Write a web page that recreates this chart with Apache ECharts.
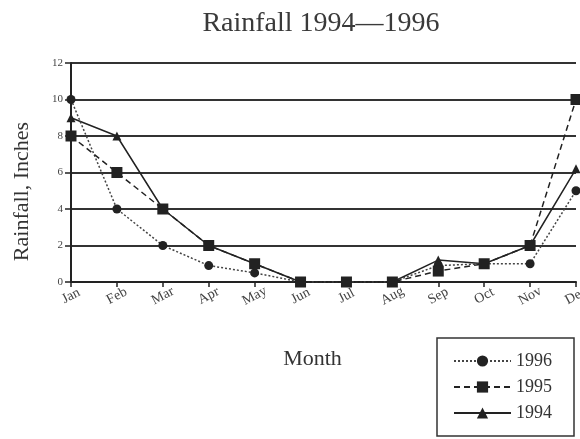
<!DOCTYPE html>
<html>
<head>
<meta charset="utf-8">
<script src="https://cdn.jsdelivr.net/npm/echarts@6/dist/echarts.min.js"></script>
<style>html,body{margin:0;padding:0;background:#fff;}#c{width:580px;height:439px;}</style>
</head>
<body>
<div id="c"></div>
<script>
const months = ['Jan','Feb','Mar','Apr','May','Jun','Jul','Aug','Sep','Oct','Nov','Dec'];
const yTicks = [0, 2, 4, 6, 8, 10, 12];
const rain1996 = [10, 4, 2, 0.9, 0.5, 0, 0, 0, 0.9, 1, 1, 5];
const rain1995 = [8, 6, 4, 2, 1, 0, 0, 0, 0.6, 1, 2, 10];
const rain1994 = [9, 8, 4, 2, 1, 0, 0, 0, 1.2, 1, 2, 6.2];

const serif = 'Liberation Serif';
const ink = '#222';
const chart = echarts.init(document.getElementById('c'));
chart.setOption({
  animation: false,
  backgroundColor: '#fff',
  title: {
    text: 'Rainfall 1994\u20141996',
    left: 316, top: 5, textAlign: 'center',
    textStyle: {fontFamily: serif, fontSize: 28, fontWeight: 'normal', color: '#3a3a3a'}
  },
  grid: {left: 71, right: 4, top: 63, bottom: 157, outerBoundsMode: 'none', containLabel: false},
  legend: {
    orient: 'vertical',
    left: 437, top: 338,
    padding: [14, 22, 14, 16],
    itemGap: 8,
    itemWidth: 57, itemHeight: 14,
    borderColor: '#333', borderWidth: 1.5,
    textStyle: {fontFamily: serif, fontSize: 18, color: '#333'},
    data: ['1996', '1995', '1994']
  },
  xAxis: {
    type: 'category',
    data: months,
    boundaryGap: false,
    name: 'Month',
    nameLocation: 'middle',
    nameGap: 66,
    nameTextStyle: {fontFamily: serif, fontSize: 22, color: '#333', padding: [0, 22, 0, 0]},
    axisLine: {lineStyle: {color: ink, width: 2}},
    axisTick: {show: true, length: 5, lineStyle: {color: ink, width: 1.5}},
    axisLabel: {
      rotate: 28, interval: 0, align: 'center', margin: 14,
      fontFamily: serif, fontSize: 14, color: '#444'
    },
    splitLine: {show: false}
  },
  yAxis: {
    type: 'value',
    min: 0, max: 12, interval: 2,
    name: 'Rainfall, Inches',
    nameLocation: 'middle',
    nameGap: 38,
    nameTextStyle: {fontFamily: serif, fontSize: 22, color: '#333', padding: [0, 38, 0, 0]},
    axisLine: {show: true, lineStyle: {color: ink, width: 2}},
    axisTick: {show: true, length: 6, lineStyle: {color: ink, width: 1.5}},
    axisLabel: {
      fontFamily: serif, fontSize: 11, color: '#444', margin: 8,
      formatter: v => yTicks.includes(v) ? String(v) : ''
    },
    splitLine: {show: true, lineStyle: {color: '#333', width: 2}}
  },
  series: [
    {
      name: '1996', type: 'line', data: rain1996,
      symbol: 'circle', symbolSize: 9,
      itemStyle: {color: ink},
      lineStyle: {color: '#444', width: 1.5, type: [2, 2]},
      z: 3
    },
    {
      name: '1995', type: 'line', data: rain1995,
      symbol: 'rect', symbolSize: 11,
      itemStyle: {color: ink},
      lineStyle: {color: ink, width: 1.5, type: [6, 4]},
      z: 4
    },
    {
      name: '1994', type: 'line', data: rain1994,
      symbol: 'triangle', symbolSize: 9,
      itemStyle: {color: ink},
      lineStyle: {color: ink, width: 1.5, type: 'solid'},
      z: 2
    }
  ]
});
</script>
</body>
</html>
